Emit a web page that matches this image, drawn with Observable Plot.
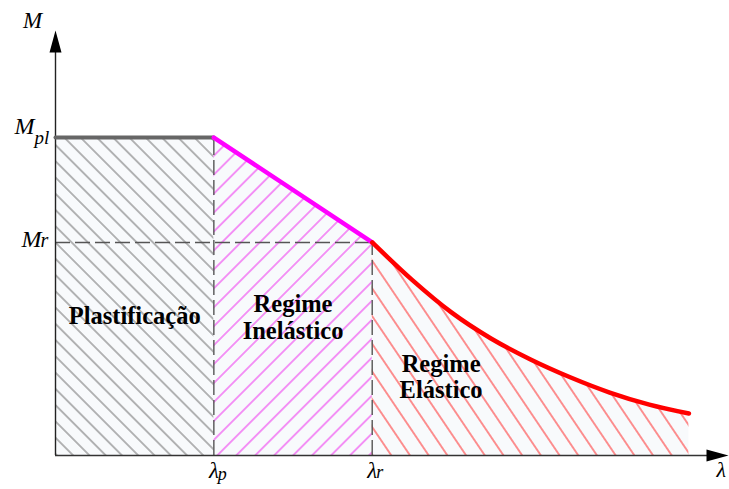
<!DOCTYPE html>
<html><head><meta charset="utf-8">
<script src="https://cdn.jsdelivr.net/npm/d3@7"></script>
<script src="https://cdn.jsdelivr.net/npm/@observablehq/plot@0.6"></script>
<style>
body{margin:0;background:#fff}
#chart svg{display:block;overflow:visible}
#chart svg text{font-family:"Liberation Serif","Times New Roman","Liberation Sans",Arial,sans-serif}
</style>
</head><body><div id="chart"></div>
<script>
// --- data ---
const lambdaP = 1, lambdaR = 2;          // slenderness limits
const Mpl = 1, Mr = 0.67;                 // plastic and residual moments (relative)
const elasticLambda = [2.0, 2.25, 2.5, 2.75, 3.0, 3.25, 3.5, 3.75, 4.0];
const elasticM      = [0.67, 0.553, 0.45, 0.368, 0.302, 0.246, 0.198, 0.16, 0.132];
const regionNames = ["Plastificação", "Regime\nInelástico", "Regime\nElástico"];
const regionAtX = [lambdaP / 2, (lambdaP + lambdaR) / 2, 2.435];
const regionAtY = [0.44, 0.435, 0.249];
const xMax = 4.25, yMax = 1.3365;

const plastic = [{x: 0, y: Mpl}, {x: lambdaP, y: Mpl}];
const inelastic = [{x: lambdaP, y: Mpl}, {x: lambdaR, y: Mr}];
const elastic = elasticLambda.map((x, i) => ({x, y: elasticM[i]}));
const regions = regionNames.map((name, i) => ({name, x: regionAtX[i], y: regionAtY[i]}));

const arrowHead = {draw(ctx) { ctx.moveTo(0, 0); ctx.lineTo(6, 22); ctx.lineTo(-6, 22); ctx.closePath(); }};
const it = {fontStyle: "italic", lineAnchor: "bottom"};

const chart = Plot.plot({
  width: 729, height: 489,
  marginLeft: 55, marginRight: 1, marginTop: 30, marginBottom: 34,
  x: {domain: [0, xMax], axis: null},
  y: {domain: [0, yMax], axis: null},
  marks: [
    // faint backgrounds
    Plot.areaY(plastic, {x: "x", y: "y", fill: "#f8fafc"}),
    Plot.areaY(inelastic, {x: "x", y: "y", fill: "#f8fafc"}),
    Plot.areaY(elastic, {x: "x", y: "y", fill: "#f8fafc", curve: "monotone-x"}),
    // hatching
    Plot.areaY(plastic, {x: "x", y: "y", fill: "url(#hatchGray)"}),
    Plot.areaY(inelastic, {x: "x", y: "y", fill: "url(#hatchMagenta)"}),
    Plot.areaY(elastic, {x: "x", y: "y", fill: "url(#hatchRed)", curve: "monotone-x"}),
    // dashed guides
    Plot.ruleX([lambdaP], {x: d => d, y1: 0, y2: Mpl, stroke: "#555", strokeWidth: 1.4, strokeDasharray: "15,5"}),
    Plot.ruleX([lambdaR], {x: d => d, y1: 0, y2: Mr, stroke: "#555", strokeWidth: 1.4, strokeDasharray: "15,5"}),
    Plot.ruleY([Mr], {y: d => d, x1: 0, x2: lambdaR, stroke: "#555", strokeWidth: 1.4, strokeDasharray: "15,5"}),
    // axes
    Plot.ruleX([0], {x: d => d, y1: 0, y2: yMax * 0.96, stroke: "#222", strokeWidth: 1.4}),
    Plot.ruleY([0], {y: d => d, x1: 0, x2: xMax * 0.98, stroke: "#333", strokeWidth: 1.4}),
    Plot.dot([yMax], {x: 0, y: d => d, symbol: arrowHead, fill: "#000", stroke: "none"}),
    Plot.dot([xMax], {x: d => d, y: 0, symbol: arrowHead, rotate: 90, fill: "#000", stroke: "none"}),
    // moment curves
    Plot.line(plastic, {x: "x", y: "y", stroke: "#666", strokeWidth: 4}),
    Plot.line(inelastic, {x: "x", y: "y", stroke: "#ff00ff", strokeWidth: 4.5}),
    Plot.line(elastic, {x: "x", y: "y", stroke: "#ff0000", strokeWidth: 4.5, curve: "monotone-x"}),
    // axis symbols
    Plot.text(["M"], {...it, x: 0, y: yMax, text: d => d, dx: -23, dy: -3, fontSize: 23}),
    Plot.text(["λ"], {...it, x: xMax, y: 0, text: d => d, dx: -12, dy: 21, textAnchor: "start", fontSize: 22}),
    Plot.text([Mpl], {...it, x: 0, y: d => d, text: ["M"], dx: -21, dy: -4, textAnchor: "end", fontSize: 24}),
    Plot.text([Mpl], {...it, x: 0, y: d => d, text: ["pl"], dx: -21, dy: 6, textAnchor: "start", fontSize: 19}),
    Plot.text([Mr], {...it, x: 0, y: d => d, text: ["M"], dx: -14, dy: 5, textAnchor: "end", fontSize: 24}),
    Plot.text([Mr], {...it, x: 0, y: d => d, text: ["r"], dx: -15, dy: 5, textAnchor: "start", fontSize: 20}),
    Plot.text([lambdaP], {...it, x: d => d, y: 0, text: ["λ"], dx: 5, dy: 22, textAnchor: "end", fontSize: 23}),
    Plot.text([lambdaP], {...it, x: d => d, y: 0, text: ["p"], dx: 4, dy: 24, textAnchor: "start", fontSize: 18}),
    Plot.text([lambdaR], {...it, x: d => d, y: 0, text: ["λ"], dx: 5, dy: 22, textAnchor: "end", fontSize: 23}),
    Plot.text([lambdaR], {...it, x: d => d, y: 0, text: ["r"], dx: 4, dy: 22, textAnchor: "start", fontSize: 18}),
    // region labels
    Plot.text(regions, {x: "x", y: "y", text: "name", fontWeight: "bold", fontSize: 24.5, lineHeight: 1.08, fill: "#000"})
  ]
});

const defs = d3.select(chart).insert("defs", ":first-child");
function hatch(id, color, spacing, angle, width) {
  const p = defs.append("pattern").attr("id", id).attr("patternUnits", "userSpaceOnUse")
    .attr("width", spacing).attr("height", spacing).attr("patternTransform", `rotate(${angle})`);
  p.append("line").attr("x1", spacing / 2).attr("y1", 0).attr("x2", spacing / 2).attr("y2", spacing)
    .attr("stroke", color).attr("stroke-width", width);
}
hatch("hatchGray", "#7a7a7a", 11.5, -45, 1.1);
hatch("hatchMagenta", "#f040f0", 13.4, 45, 1.1);
hatch("hatchRed", "#ff3a3a", 15.5, -34, 1.1);

document.getElementById("chart").append(chart);
</script>
</body></html>
